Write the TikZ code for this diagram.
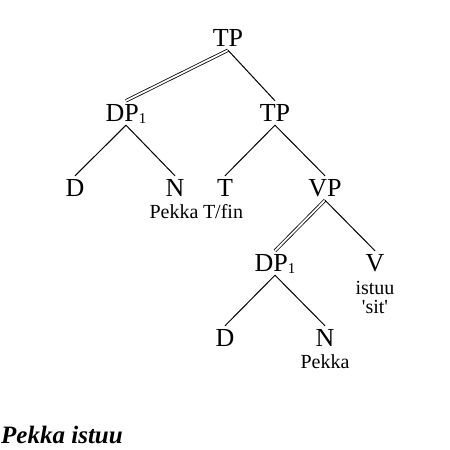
\documentclass[tikz,border=0pt]{standalone}
\usepackage{fontspec}
\setmainfont{Liberation Serif}
\newcommand{\idx}[1]{\raisebox{-2pt}{\fontsize{15}{15}\selectfont #1}}
\tikzset{
CAT/.style ={font=\fontsize{26}{26}\selectfont, text height=17pt, text depth=0pt, inner xsep=0pt, inner ysep=3.5pt},
WORD/.style ={font=\fontsize{20}{20}\selectfont, inner sep=0pt, anchor=base},
BRANCH/.style ={draw=black, line width=1pt},
MOVED/.style ={draw=black, line width=0.8pt, double=white, double distance=1.8pt},
}

\begin{document}
\begin{tikzpicture}[x=1pt,y=-1pt]
	\useasboundingbox (0,0) rectangle (450,450);
	% categories
	\node[CAT] (tp) at (228,38) {TP};
	\node[CAT] (dpa) at (126,113) {DP\idx{1}};
	\node[CAT] (tpb) at (275,113) {TP};
	\node[CAT] (da) at (75,188) {D};
	\node[CAT] (na) at (175,188) {N};
	\node[CAT] (t) at (225,188) {T};
	\node[CAT] (vp) at (325,188) {VP};
	\node[CAT] (dpb) at (275,263) {DP\idx{1}};
	\node[CAT] (v) at (375,263) {V};
	\node[CAT] (db) at (225,338) {D};
	\node[CAT] (nb) at (325,338) {N};
	% words
	\node[WORD] (pekkaa) at (174,218) {Pekka};
	\node[WORD] (tfin) at (223,218) {T/fin};
	\node[WORD] (istuu) at (375,294) {istuu};
	\node[WORD] (sit) at (375,313) {\textquotesingle sit\textquotesingle};
	\node[WORD] (pekkab) at (325,368) {Pekka};
	% branches
	\path[MOVED] (tp.south) -- (dpa.north);
	\path[BRANCH] (tp.south) -- (tpb.north);
	\path[BRANCH] (dpa.south) -- (da.north);
	\path[BRANCH] (dpa.south) -- (na.north);
	\path[BRANCH] (tpb.south) -- (t.north);
	\path[BRANCH] (tpb.south) -- (vp.north);
	\path[MOVED] (vp.south) -- (dpb.north);
	\path[BRANCH] (vp.south) -- (v.north);
	\path[BRANCH] (dpb.south) -- (db.north);
	\path[BRANCH] (dpb.south) -- (nb.north);
	\node[anchor=base west, inner sep=0pt, font=\fontsize{25}{25}\selectfont\bfseries\itshape] (sentence) at (1,443) {Pekka istuu};
\end{tikzpicture}
\end{document}
